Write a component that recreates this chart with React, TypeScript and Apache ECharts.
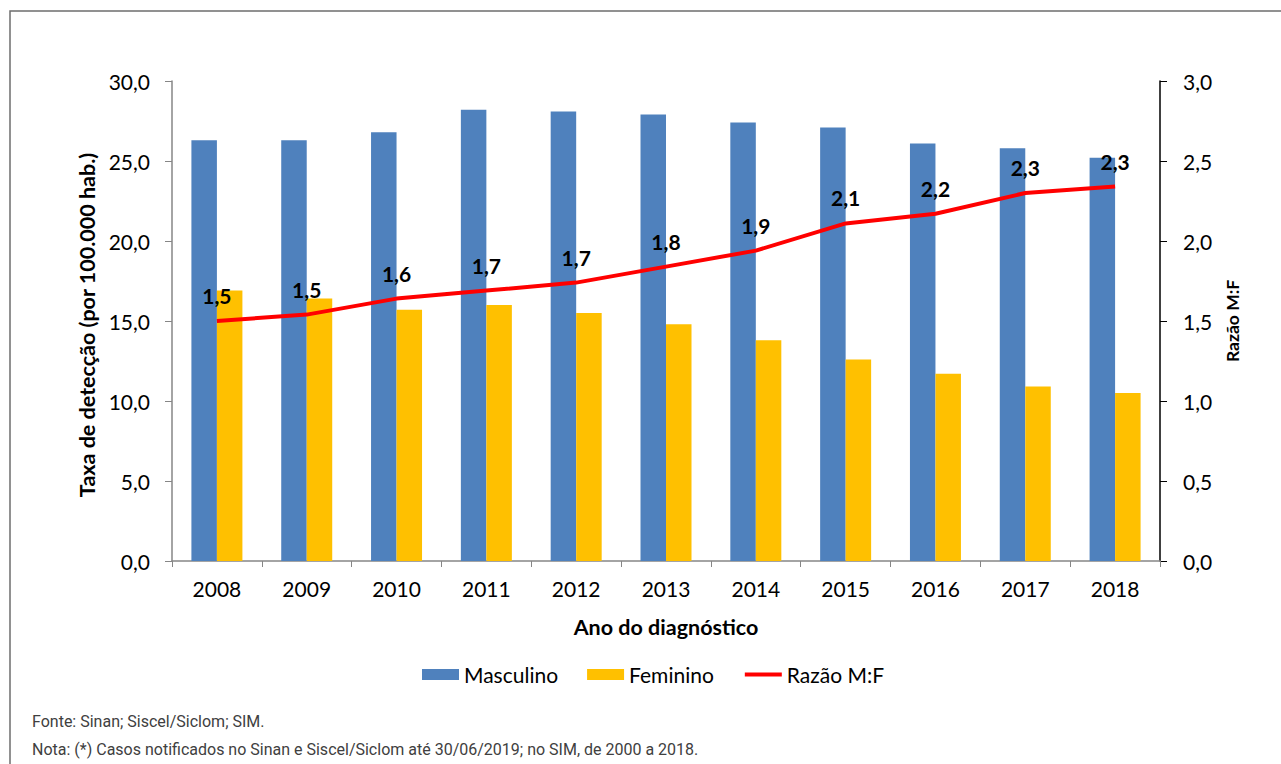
import React, { useEffect, useRef } from "react";
import * as echarts from "echarts";

const years = ["2008", "2009", "2010", "2011", "2012", "2013", "2014", "2015", "2016", "2017", "2018"];
const masculino = [26.3, 26.3, 26.8, 28.2, 28.1, 27.9, 27.4, 27.1, 26.1, 25.8, 25.2];
const feminino = [16.9, 16.4, 15.7, 16.0, 15.5, 14.8, 13.8, 12.6, 11.7, 10.9, 10.5];
const razao = [1.5, 1.54, 1.64, 1.69, 1.74, 1.84, 1.94, 2.11, 2.17, 2.3, 2.34];

const fonte = "Fonte: Sinan; Siscel/Siclom; SIM.";
const nota = "Nota: (*) Casos notificados no Sinan e Siscel/Siclom até 30/06/2019; no SIM, de 2000 a 2018.";

const FONT = "Lato, 'Noto Sans', sans-serif";
const fmt = (v: number) => v.toFixed(1).replace(".", ",");

export default function App() {
  const ref = useRef<HTMLDivElement>(null);
  useEffect(() => {
    if (!ref.current) return;
    const chart = echarts.init(ref.current, null, { renderer: "svg" });
    chart.setOption({
      animation: false,
      backgroundColor: "#ffffff",
      textStyle: { fontFamily: FONT },
      grid: { left: 172, right: 121, top: 81, bottom: 203, containLabel: false },
      legend: {
        left: 422,
        top: 664,
        padding: 0,
        itemWidth: 37,
        itemHeight: 11,
        itemGap: 29,
        textStyle: { fontSize: 21, color: "#000", fontFamily: FONT },
        data: [
          { name: "Masculino", icon: "rect" },
          { name: "Feminino", icon: "rect" },
          { name: "Razão M:F", itemStyle: { opacity: 0 }, lineStyle: { width: 4, color: "#ff0000" } },
        ],
      },
      xAxis: {
        type: "category",
        data: years,
        name: "Ano do diagnóstico",
        nameLocation: "middle",
        nameGap: 55,
        nameTextStyle: { fontSize: 21.5, fontWeight: "bold", color: "#000", fontFamily: FONT },
        axisLine: { lineStyle: { color: "#868686", width: 1.5 } },
        axisTick: { show: true, length: 6, lineStyle: { color: "#868686" } },
        axisLabel: { fontSize: 21, color: "#000", margin: 17, fontFamily: FONT },
      },
      yAxis: [
        {
          type: "value",
          min: 0,
          max: 30,
          interval: 5,
          name: "Taxa de detecção (por 100.000 hab.)",
          nameLocation: "middle",
          nameRotate: 90,
          nameGap: 74,
          nameTextStyle: { fontSize: 21.5, fontWeight: "bold", color: "#000", fontFamily: FONT, padding: [0, 0, 0, -8] },
          axisLine: { show: true, lineStyle: { color: "#868686", width: 1.5 } },
          axisTick: { show: true, length: 7, lineStyle: { color: "#868686" } },
          splitLine: { show: false },
          axisLabel: { fontSize: 21, color: "#000", margin: 22, formatter: (v: number) => fmt(v), fontFamily: FONT },
        },
        {
          type: "value",
          min: 0,
          max: 3,
          interval: 0.5,
          position: "right",
          name: "Razão M:F",
          nameLocation: "middle",
          nameRotate: 90,
          nameGap: 63,
          nameTextStyle: { fontSize: 17.5, fontWeight: "bold", color: "#000", fontFamily: FONT },
          axisLine: { show: true, lineStyle: { color: "#000", width: 1.5 } },
          axisTick: { show: true, length: 7, lineStyle: { color: "#000" } },
          splitLine: { show: false },
          axisLabel: { fontSize: 21, color: "#000", margin: 23, formatter: (v: number) => fmt(v), fontFamily: FONT },
        },
      ],
      series: [
        {
          name: "Masculino",
          type: "bar",
          data: masculino,
          barWidth: 25.5,
          barGap: "0%",
          itemStyle: { color: "#4f81bd" },
        },
        {
          name: "Feminino",
          type: "bar",
          data: feminino,
          barWidth: 25.5,
          barGap: "0%",
          itemStyle: { color: "#ffc000" },
        },
        {
          name: "Razão M:F",
          type: "line",
          yAxisIndex: 1,
          data: razao,
          symbol: "circle",
          symbolSize: 2,
          showSymbol: true,
          lineStyle: { color: "#ff0000", width: 4 },
          itemStyle: { color: "rgba(255,0,0,0)", borderWidth: 0 },
          z: 5,
          label: {
            show: true,
            position: "top",
            distance: 14,
            fontSize: 21,
            fontWeight: "bold",
            color: "#000",
            fontFamily: FONT,
            formatter: (p: any) => fmt(p.value),
          },
        },
      ],
      graphic: [
        {
          type: "rect",
          shape: { x: 10, y: 11, width: 1300, height: 800 },
          style: { fill: "none", stroke: "#6e6e6e", lineWidth: 1.5 },
          silent: true,
        },
        {
          type: "text",
          left: 32,
          top: 713,
          style: { text: fonte, fontSize: 16, fontWeight: 400, fill: "#404040", fontFamily: "Roboto, sans-serif" },
        },
        {
          type: "text",
          left: 32,
          top: 741,
          style: { text: nota, fontSize: 16, fontWeight: 400, fill: "#404040", fontFamily: "Roboto, sans-serif" },
        },
      ],
    });
    return () => chart.dispose();
  }, []);
  return (
    <div
      ref={ref}
      style={{ position: "fixed", left: 0, top: 0, width: 1281, height: 764 }}
    />
  );
}
